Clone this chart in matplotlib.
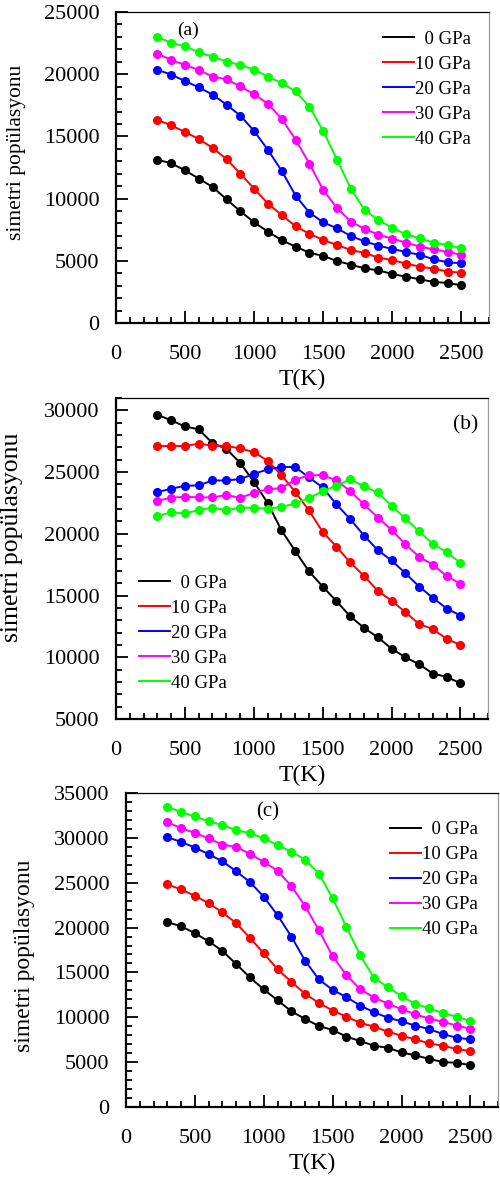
# Poblaciones de simetría frente a temperatura para varias presiones
import numpy as np
import matplotlib.pyplot as plt
from matplotlib.ticker import MultipleLocator

plt.rcParams['font.family'] = ['Liberation Serif', 'DejaVu Serif']

# Temperaturas [K]
T = [300, 400, 500, 600, 700, 800, 900, 1000, 1100, 1200, 1300, 1400,
     1500, 1600, 1700, 1800, 1900, 2000, 2100, 2200, 2300, 2400, 2500]

etiquetas = ['  0 GPa', '10 GPa', '20 GPa', '30 GPa', '40 GPa']
colores = ['black', '#ff0000', '#0000ff', '#ff00ff', '#00ff00']

# Panel (a)
a_0 = [13130, 12830, 12270, 11600, 10930, 9940, 8980, 8090, 7340, 6650, 6140, 5650,
       5390, 4980, 4690, 4390, 4230, 3940, 3720, 3510, 3300, 3220, 3030]
a_10 = [16320, 15890, 15350, 14790, 14070, 13180, 12000, 10800, 9590, 8680, 7770, 7180,
        6670, 6270, 5870, 5630, 5250, 5060, 4770, 4530, 4370, 4130, 4050]
a_20 = [20360, 19960, 19450, 18940, 18350, 17550, 16670, 15430, 13910, 12220, 10240, 8870,
        8090, 7610, 6990, 6560, 6220, 5950, 5710, 5470, 5120, 4880, 4800]
a_30 = [21650, 21140, 20740, 20340, 19800, 19590, 19020, 18380, 17630, 16400, 14740, 12810,
        10690, 9240, 8150, 7560, 7100, 6780, 6460, 6140, 5920, 5710, 5490]
a_40 = [22990, 22530, 22240, 21760, 21410, 21010, 20740, 20360, 19800, 19290, 18620, 17390,
        15430, 13130, 10800, 9060, 8280, 7640, 7130, 6810, 6460, 6270, 6000]

# Panel (b)
b_0 = [29650, 29190, 28700, 28460, 27350, 26890, 25760, 24220, 22510, 20300, 18620, 16970,
       15730, 14540, 13320, 12380, 11620, 10700, 10000, 9430, 8680, 8410, 7890]
b_10 = [27110, 27110, 27110, 27300, 27140, 27110, 26920, 26620, 25920, 24760, 23410, 21890,
        20160, 18950, 17680, 16590, 15380, 14590, 13650, 12700, 12270, 11490, 11000]
b_20 = [23380, 23650, 23890, 23920, 24320, 24320, 24430, 24840, 25220, 25410, 25410, 24570,
        23760, 22380, 21190, 19860, 18680, 17840, 16810, 15730, 14810, 13950, 13380]
b_30 = [22680, 22920, 23000, 22950, 22950, 23140, 22920, 23300, 23620, 23700, 24380, 24730,
        24760, 24320, 23460, 22380, 21320, 20320, 19160, 18140, 17490, 16590, 15950]
b_40 = [21460, 21730, 21650, 21920, 22110, 21920, 22110, 22110, 22030, 22160, 22460, 22890,
        23460, 23890, 24430, 23840, 23350, 22270, 21240, 20190, 19190, 18510, 17650]

# Panel (c)
c_0 = [20600, 20150, 19370, 18470, 17390, 15930, 14440, 13100, 11900, 10670, 9810, 9030,
       8580, 7840, 7350, 6830, 6600, 6080, 5750, 5370, 5000, 4930, 4660]
c_10 = [24810, 24250, 23540, 22720, 21680, 20490, 18840, 17130, 15340, 13960, 12610, 11600,
        10750, 10070, 9370, 8960, 8400, 7950, 7540, 7090, 6830, 6460, 6230]
c_20 = [30070, 29550, 28920, 28170, 27390, 26270, 25070, 23430, 21380, 18990, 16310, 14220,
        13060, 12240, 11310, 10560, 9960, 9550, 9070, 8690, 8130, 7720, 7540]
c_30 = [31750, 31080, 30560, 29930, 29250, 28990, 28210, 27310, 26340, 24630, 22390, 19700,
        16790, 14700, 13130, 12200, 11530, 10900, 10340, 9850, 9510, 9070, 8730]
c_40 = [33470, 32870, 32390, 31830, 31420, 30860, 30520, 29960, 29180, 28470, 27570, 26010,
        23250, 20070, 16900, 14400, 13360, 12350, 11490, 11010, 10450, 10070, 9590]

W, H = 500, 1180
fig = plt.figure(figsize=(W / 100, H / 100), dpi=100)

# caja en píxeles (izq, arriba, der, abajo), límites, series y ajustes de cada panel
paneles = [
    dict(px=(116, 12, 489, 323), ylim=(0, 25000), series=[a_0, a_10, a_20, a_30, a_40],
         letra='(a)', pos_letra=(520, 23550), fs_letra=14,
         leg=dict(loc='upper left', bbox_to_anchor=(0.715, 0.94)),
         ylab_fs=15.5, ylab_xy=(-0.24, 0.55)),
    dict(px=(116, 398, 488, 719), ylim=(5000, 31000), series=[b_0, b_10, b_20, b_30, b_40],
         letra='(b)', pos_letra=(2540, 28800), fs_letra=15.5,
         leg=dict(loc='lower left', bbox_to_anchor=(0.062, 0.085)),
         ylab_fs=18.5, ylab_xy=(-0.25, 0.565)),
    dict(px=(126, 793, 498, 1107), ylim=(0, 35000), series=[c_0, c_10, c_20, c_30, c_40],
         letra='(c)', pos_letra=(1030, 32900), fs_letra=15,
         leg=dict(loc='upper left', bbox_to_anchor=(0.71, 0.91)),
         ylab_fs=17, ylab_xy=(-0.245, 0.48)),
]

for p in paneles:
    x0, y0, x1, y1 = p['px']
    ax = fig.add_axes([x0 / W, 1 - y1 / H, (x1 - x0) / W, (y1 - y0) / H])

    for datos, col, lab in zip(p['series'], colores, etiquetas):
        ax.plot(T, datos, color=col, lw=1.4, label=lab)
        ax.plot(T, datos, 'o', color=col, ms=5.5, label='_nolegend_')

    ax.set_xlim(0, 2700)
    ax.set_ylim(*p['ylim'])
    ax.set_xticks([0, 500, 1000, 1500, 2000, 2500])
    ax.yaxis.set_major_locator(MultipleLocator(5000))
    ax.xaxis.set_minor_locator(MultipleLocator(100))
    ax.yaxis.set_minor_locator(MultipleLocator(1000))
    ax.tick_params(which='both', direction='in', top=False, right=False,
                   width=1.3, labelsize=16)
    ax.tick_params(which='major', length=8.5)
    ax.tick_params(which='minor', length=4)
    ax.tick_params(axis='x', pad=16)
    ax.tick_params(axis='y', pad=12)

    for lado in ['left', 'bottom']:
        ax.spines[lado].set_linewidth(1.6)
    ax.spines['top'].set_linewidth(0.9)
    ax.spines['right'].set_linewidth(0.9)
    ax.spines['right'].set_color('#999999')

    ax.set_xlabel('T(K)', fontsize=17, labelpad=3)
    ax.set_ylabel('simetri popülasyonu', fontsize=p['ylab_fs'])
    ax.yaxis.set_label_coords(*p['ylab_xy'])

    ax.text(*p['pos_letra'], p['letra'], ha='center', va='center', fontsize=p['fs_letra'])

    ax.legend(frameon=False, fontsize=13.5, handlelength=1.65, handletextpad=0.05,
              labelspacing=0.42, borderpad=0, borderaxespad=0, **p['leg'])

fig.savefig('out.png', dpi=100)
